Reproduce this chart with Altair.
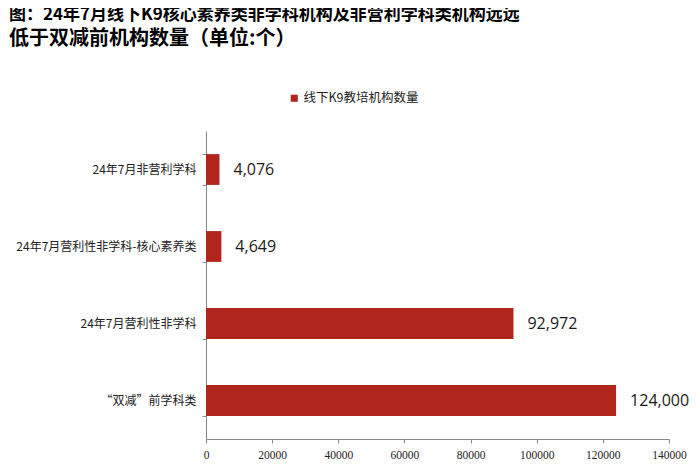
import altair as alt
import pandas as pd

categories = ["24年7月非营利学科", "24年7月营利性非学科-核心素养类", "24年7月营利性非学科", "“双减”前学科类"]
values = [4076, 4649, 92972, 124000]
series_name = "线下K9教培机构数量"
x_ticks = [0, 20000, 40000, 60000, 80000, 100000, 120000, 140000]

df = pd.DataFrame({"cat": categories, "val": values, "series": [series_name] * len(values)})

BAR = "#B0251C"

base = alt.Chart(df).encode(
    y=alt.Y("cat:N", sort=categories, title=None,
            scale=alt.Scale(paddingInner=0.6, paddingOuter=0.3),
            axis=alt.Axis(tickBand="extent", tickSize=4, labelPadding=6,
                          labelFont="Noto Sans CJK SC", labelFontSize=12, labelColor="#222",
                          domainColor="#888", tickColor="#888", labelLimit=300)),
)

bars = base.mark_bar(color=BAR).encode(
    x=alt.X("val:Q", title=None,
            scale=alt.Scale(domain=[0, 140000], nice=False),
            axis=alt.Axis(values=x_ticks, grid=False, tickSize=4, labelPadding=6,
                          labelFont="Liberation Serif", labelFontSize=11.5, labelColor="#222",
                          domainColor="#888", tickColor="#888", format="d", labelFlush=False)),
    color=alt.Color("series:N", scale=alt.Scale(range=[BAR]),
                    legend=alt.Legend(title=None, orient="none", legendX=82, legendY=-39,
                                      symbolType="square", symbolSize=50, symbolStrokeWidth=0,
                                      labelOffset=3,
                                      labelFont="Noto Sans CJK SC", labelFontSize=12.5,
                                      labelColor="#222")),
)

labels = base.mark_text(align="left", dx=14, font="Open Sans", fontSize=16, color="#1a1a1a").encode(
    x=alt.X("val:Q"),
    text=alt.Text("val:Q", format=","),
)

chart = (bars + labels).properties(
    width=463, height=308,
    autosize=alt.AutoSizeParams(type="none"),
    padding={"left": 198, "top": 123, "right": 23, "bottom": 27},
    title=alt.TitleParams(
        text="图：24年7月线下K9核心素养类非学科机构及非营利学科类机构远远",
        subtitle="低于双减前机构数量（单位:个）",
        anchor="start", frame="group", dx=-197, dy=28, fontSize=17, font="Noto Sans CJK SC",
        fontWeight="bold", color="#000",
        subtitleFont="Noto Sans CJK SC", subtitleFontSize=20, subtitleFontWeight="bold",
        subtitleColor="#000", subtitlePadding=5, offset=70,
    ),
).configure_view(stroke=None)

chart.save("out.html", embed_options={"renderer": "svg", "actions": False})
